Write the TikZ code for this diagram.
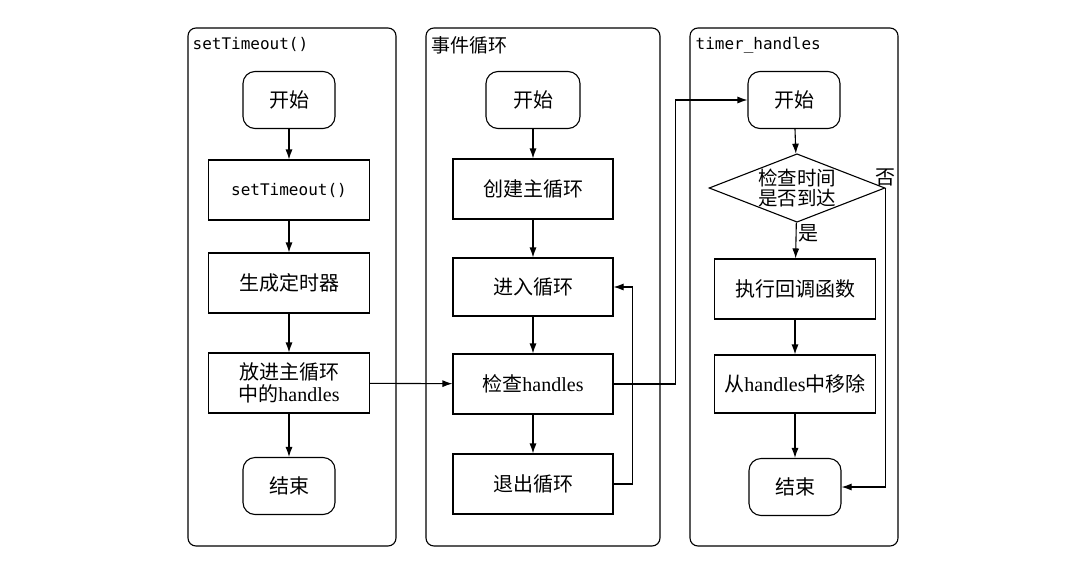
\documentclass[tikz,border=0pt]{standalone}
\usepackage{fontspec}
\setmainfont{Liberation Serif}
\setmonofont{DejaVu Sans Mono}
\newfontfamily\cjk{Noto Sans CJK SC}
\usepackage{tikz}
\usetikzlibrary{shapes.geometric, arrows.meta, positioning}
\tikzstyle{pane} = [rectangle, line width=1.1pt, rounded corners=8pt, minimum height=518pt, draw=black]
\tikzstyle{title} = [inner sep=2pt, font=\fontsize{16}{18}\selectfont\ttfamily]
\tikzstyle{term} = [rectangle, line width=1.1pt, rounded corners=12pt, minimum width=92pt, minimum height=57pt, text centered, draw=black]
\tikzstyle{block} = [rectangle, line width=1.1pt, minimum width=161pt, minimum height=60pt, align=center, draw=black]
\tikzstyle{decision} = [diamond, line width=1.1pt, shape aspect=2.57, inner sep=0pt, align=center, font=\fontsize{19.5}{20}\selectfont, draw=black]
\tikzstyle{arrow} = [line width=1.1pt, -{Latex[length=10pt,width=7pt]}]

\begin{document}
\begin{tikzpicture}[x=1pt, y=-1pt, font=\fontsize{20}{24}\selectfont]
		\useasboundingbox (0,0) rectangle (1086,560);
		% the three lanes
		\node (Pane1) [pane, minimum width=208pt] at (292,287) {};
		\node (Pane2) [pane, minimum width=234pt] at (543,287) {};
		\node (Pane3) [pane, minimum width=208pt] at (794,287) {};
		\node (Title1) [title, below right = 8pt and 3pt of Pane1.north west] {setTimeout()};
		\node (Title2) [title, font=\fontsize{19}{22}\selectfont\cjk, below right = 7pt and 4pt of Pane2.north west] {事件循环};
		\node (Title3) [title, below right = 8pt and 4pt of Pane3.north west] {timer\_handles};

		% setTimeout()
		\node (Start1) [term] at (289,100) {\cjk 开始};
		\node (Set1) [block, font=\fontsize{16}{18}\selectfont\ttfamily] at (289,190) {setTimeout()};
		\node (Timer1) [block] at (289,283) {\cjk 生成定时器};
		\node (Push1) [block, font=\fontsize{20}{22}\selectfont] at (289,383) {{\cjk 放进主循环}\\{\cjk 中的}handles};
		\node (End1) [term] at (289,486) {\cjk 结束};

		% event loop
		\node (Start2) [term, minimum width=94pt] at (533,100) {\cjk 开始};
		\node (Create2) [block, minimum width=160pt] at (533,189) {\cjk 创建主循环};
		\node (Enter2) [block, minimum width=160pt, minimum height=58pt] at (533,287) {\cjk 进入循环};
		\node (Check2) [block, minimum width=160pt] at (533,384) {{\cjk 检查}handles};
		\node (Quit2) [block, minimum width=160pt] at (533,484) {\cjk 退出循环};

		% timer_handles
		\node (Start3) [term] at (794,100) {\cjk 开始};
		\node (Check3) [decision] at (797,188) {{\cjk 检查时间}\\{\cjk 是否到达}};
		\node (Run3) [block] at (795,289) {\cjk 执行回调函数};
		\node (Remove3) [block, minimum height=58pt] at (795,384) {{\cjk 从}handles{\cjk 中移除}};
		\node (End3) [term] at (795,487) {\cjk 结束};
		\node (No3) [inner sep=1pt, above = 1pt of Check3.east] {\cjk 否};

		\draw [arrow] (Start1) -- (Set1);
		\draw [arrow] (Set1) -- (Timer1);
		\draw [arrow] (Timer1) -- (Push1);
		\draw [arrow] (Push1) -- (End1);
		\draw [arrow] (Push1) -- (Check2);

		\draw [arrow] (Start2) -- (Create2);
		\draw [arrow] (Create2) -- (Enter2);
		\draw [arrow] (Enter2) -- (Check2);
		\draw [arrow] (Check2) -- (Quit2);
		\draw [arrow] (Quit2.east) -- ++(19,0) |- (Enter2.east);
		\draw [arrow] (Check2.east) -- ++(62,0) |- (Start3.west);

		\draw [arrow] (Start3) -- (Check3);
		\draw [arrow] (Check3) -- node (Yes3) [pos=0.3, right, inner sep=2pt] {\cjk 是} (Run3);
		\draw [arrow] (Run3) -- (Remove3);
		\draw [arrow] (Remove3) -- (End3);
		\draw [arrow] (Check3.east) -- (Check3.east |- End3.east) -- (End3.east);
\end{tikzpicture}
\end{document}
